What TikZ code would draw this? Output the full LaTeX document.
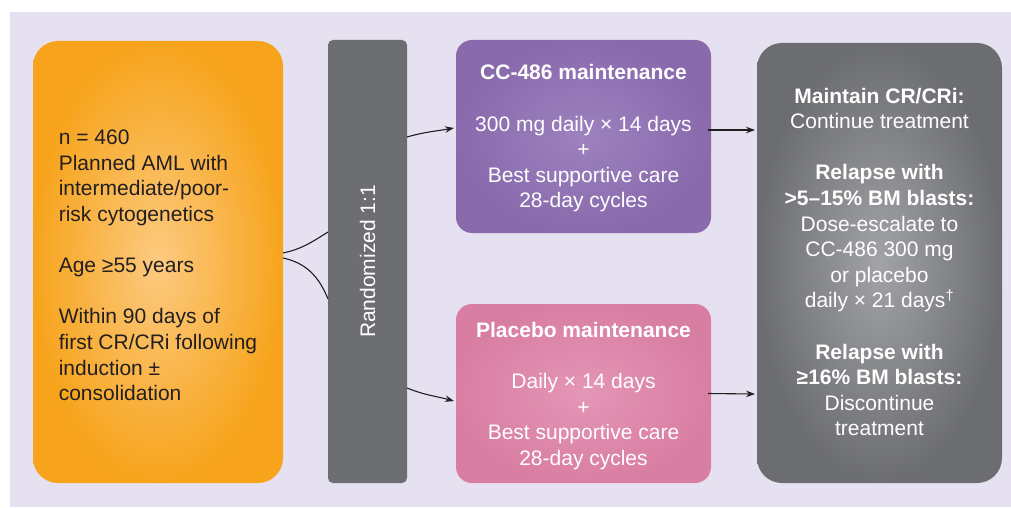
\documentclass[tikz,border=0pt]{standalone}
\usepackage{fontspec}
\setmainfont{Liberation Sans}
\usetikzlibrary{arrows.meta}
\definecolor{bglav}{RGB}{230,225,240}
\definecolor{orout}{RGB}{247,164,28}
\definecolor{orin}{RGB}{252,202,128}
\definecolor{puout}{RGB}{137,106,173}
\definecolor{puin}{RGB}{157,130,190}
\definecolor{piout}{RGB}{217,126,163}
\definecolor{piin}{RGB}{228,150,182}
\definecolor{grout}{RGB}{108,109,112}
\definecolor{grin}{RGB}{162,163,166}
\definecolor{barg}{RGB}{109,110,113}
\definecolor{ink}{RGB}{35,31,32}
\tikzset{
  boxbase/.style={inner sep=0pt, outer sep=0pt},
  txt/.style={inner sep=0pt, outer sep=0pt, align=center,
    font=\fontsize{21}{25.6}\selectfont},
  conn/.style={ink, line width=1.1pt},
  arr/.style={conn, -{Stealth[length=9pt,width=6.5pt]}}
}
\begin{document}
\begin{tikzpicture}[x=1pt,y=1pt]
\useasboundingbox (0,0) rectangle (1011,507);
\fill[bglav] (10,0) rectangle (1011,495);
% left orange box
\node[boxbase, minimum width=250pt, minimum height=442pt,
  rounded corners=25pt, shading=radial, inner color=orin, outer color=orout]
  (orange) at (158,245) {};
\node[txt, align=left, text=ink] (orangetext) at ([yshift=-3.5pt]orange.center)
  {n = 460\\Planned AML with\\intermediate/poor-\\risk cytogenetics\\[25.6pt]Age ≥55 years\\[25.6pt]Within 90 days of\\first CR/CRi following\\induction ±\\consolidation};
% randomization bar
\node[boxbase, minimum width=79pt, minimum height=443pt, rounded corners=5pt, fill=barg]
  (rand) at (367.5,245.5) {};
\node[txt, rotate=90, text=white] (randtext) at (rand.center) {Randomized 1:1};
% purple box
\node[boxbase, minimum width=255pt, minimum height=193pt,
  rounded corners=16pt, shading=radial, inner color=puin, outer color=puout]
  (cc) at (583.5,370.5) {};
\node[txt, text=white] (cctext) at ([yshift=-2pt]cc.center)
  {\textbf{CC-486 maintenance}\\[25.6pt]300 mg daily × 14 days\\+\\Best supportive care\\28-day cycles};
% pink box
\node[boxbase, minimum width=255pt, minimum height=179pt,
  rounded corners=16pt, shading=radial, inner color=piin, outer color=piout]
  (pl) at (583.5,113.5) {};
\node[txt, text=white] (pltext) at ([yshift=-2.5pt]pl.center)
  {\textbf{Placebo maintenance}\\[25.6pt]Daily × 14 days\\+\\Best supportive care\\28-day cycles};
% right gray box
\node[boxbase, minimum width=245pt, minimum height=440pt,
  rounded corners=25pt, shading=radial, inner color=grin, outer color=grout]
  (out) at (879.5,244) {};
\node[txt, text=white] (outtext) at ([yshift=1pt]out.center)
  {\textbf{Maintain CR/CRi:}\\Continue treatment\\[25.6pt]\textbf{Relapse with}\\\textbf{>5–15\% BM blasts:}\\Dose-escalate to\\CC-486 300 mg\\or placebo\\daily × 21 days\textsuperscript{†}\\[25.6pt]\textbf{Relapse with}\\\textbf{≥16\% BM blasts:}\\Discontinue\\treatment};
% connectors
\draw[conn] ([yshift=9pt]orange.east) to[out=12, in=212] ([yshift=29.5pt]rand.west);
\draw[conn] ([yshift=4pt]orange.east) to[out=-12, in=112] ([yshift=-37.5pt]rand.west);
\draw[arr] ([yshift=124.5pt]rand.east) to[out=16, in=190] ([xshift=-2pt,yshift=8.5pt]cc.west);
\draw[arr] ([yshift=-126.5pt]rand.east) to[out=-22, in=165] ([xshift=-2pt,yshift=-7.5pt]pl.west);
\draw[arr] ([xshift=-3pt,yshift=6.5pt]cc.east) -- ([xshift=-2pt,yshift=133pt]out.west);
\draw[arr] ([xshift=-3pt]pl.east) -- ([xshift=-2pt,yshift=-131pt]out.west);
\end{tikzpicture}
\end{document}
